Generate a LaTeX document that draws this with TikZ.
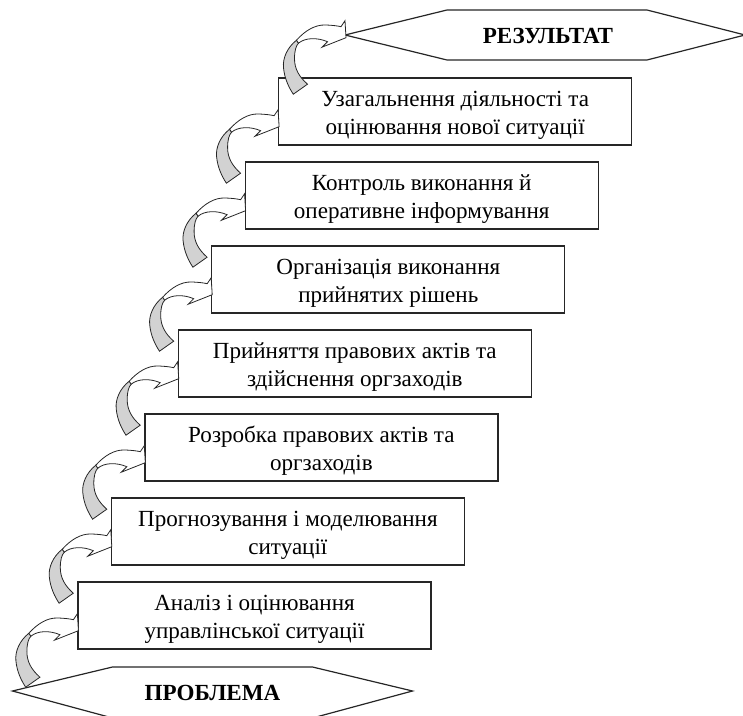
\documentclass[tikz,border=0pt]{standalone}
\usepackage{fontspec}
\setmainfont{Liberation Serif}
\usetikzlibrary{calc}
\newcommand{\mystrut}{\rule{0pt}{17pt}}
\begin{document}
\begin{tikzpicture}[x=0.75pt,y=-0.75pt,
  stepbox/.style={draw=black!85, line width=0.9pt, fill=white,
    minimum width=264.75pt, minimum height=50.25pt, inner sep=0pt,
    align=center, font=\fontsize{17.3}{21}\selectfont},
  hexline/.style={draw=black!85, line width=0.9pt, fill=white},
  hextext/.style={font=\fontsize{17.3}{21}\selectfont\bfseries, inner sep=0pt},
  arrback/.style={draw=black!85, line width=0.6pt, fill=gray!35},
  arrfront/.style={draw=black!85, line width=0.6pt, fill=white},
  curvarrow/.pic={
    \path[arrback] (-48.5,19.5) .. controls (-58,27) and (-62.5,38) .. (-61.5,47)
      .. controls (-60.5,58) and (-56,67) .. (-51.7,73.5) -- (-37.5,63.5)
      .. controls (-46,56) and (-50.5,48) .. (-50.5,38)
      .. controls (-50.5,30) and (-49,25) .. (-46.5,22.5) -- cycle;
    \path[arrfront] (-48.5,19.5) .. controls (-40,10) and (-30,4) .. (-20,4.3)
      .. controls (-12,4.5) and (-7,5.3) .. (-4,6) -- (0,0) -- (1,17)
      -- (-23,26.5) -- (-17.5,21)
      .. controls (-28,16.5) and (-40,17) .. (-46.5,22.5) -- cycle;
  }
]
\useasboundingbox (0,0) rectangle (743,716);

% hexagons
\path[hexline] (12.5,691) -- (112.5,667) -- (312.5,667) -- (412.5,691)
  -- (312.5,718) -- (112.5,718) -- cycle;
\node[hextext] (prob) at (212.5,693) {ПРОБЛЕМА};
\path[hexline] (345,35) -- (447,10) -- (647,10) -- (745,35)
  -- (647,60) -- (447,60) -- cycle;
\node[hextext] (res) at (548,36) {РЕЗУЛЬТАТ};
\coordinate (resL) at (345,35);

% steps
\node[stepbox] (b1) at (254.5,615.5) {\mystrut Аналіз і оцінювання\\управлінської ситуації};
\node[stepbox] (b2) at (287.9,531.5) {\mystrut Прогнозування і моделювання\\ситуації};
\node[stepbox] (b3) at (321.4,447.5) {\mystrut Розробка правових актів та\\оргзаходів};
\node[stepbox] (b4) at (354.8,363.5) {\mystrut Прийняття правових актів та\\здійснення оргзаходів};
\node[stepbox] (b5) at (388.3,279.5) {\mystrut Організація виконання\\прийнятих рішень};
\node[stepbox] (b6) at (421.7,195.5) {\mystrut Контроль виконання й\\оперативне інформування};
\node[stepbox] (b7) at (455.2,111.5) {\mystrut Узагальнення діяльності та\\оцінювання нової ситуації};

% curved arrows
\pic at ($(b1.north west)+(0,32.3)$) {curvarrow};
\pic at ($(b2.north west)+(0,32.3)$) {curvarrow};
\pic at ($(b3.north west)+(0,32.3)$) {curvarrow};
\pic at ($(b4.north west)+(0,32.3)$) {curvarrow};
\pic at ($(b5.north west)+(0,32.3)$) {curvarrow};
\pic at ($(b6.north west)+(0,32.3)$) {curvarrow};
\pic at ($(b7.north west)+(0,32.3)$) {curvarrow};
\pic at ($(resL)+(0,-14.3)$) {curvarrow};
\end{tikzpicture}
\end{document}
